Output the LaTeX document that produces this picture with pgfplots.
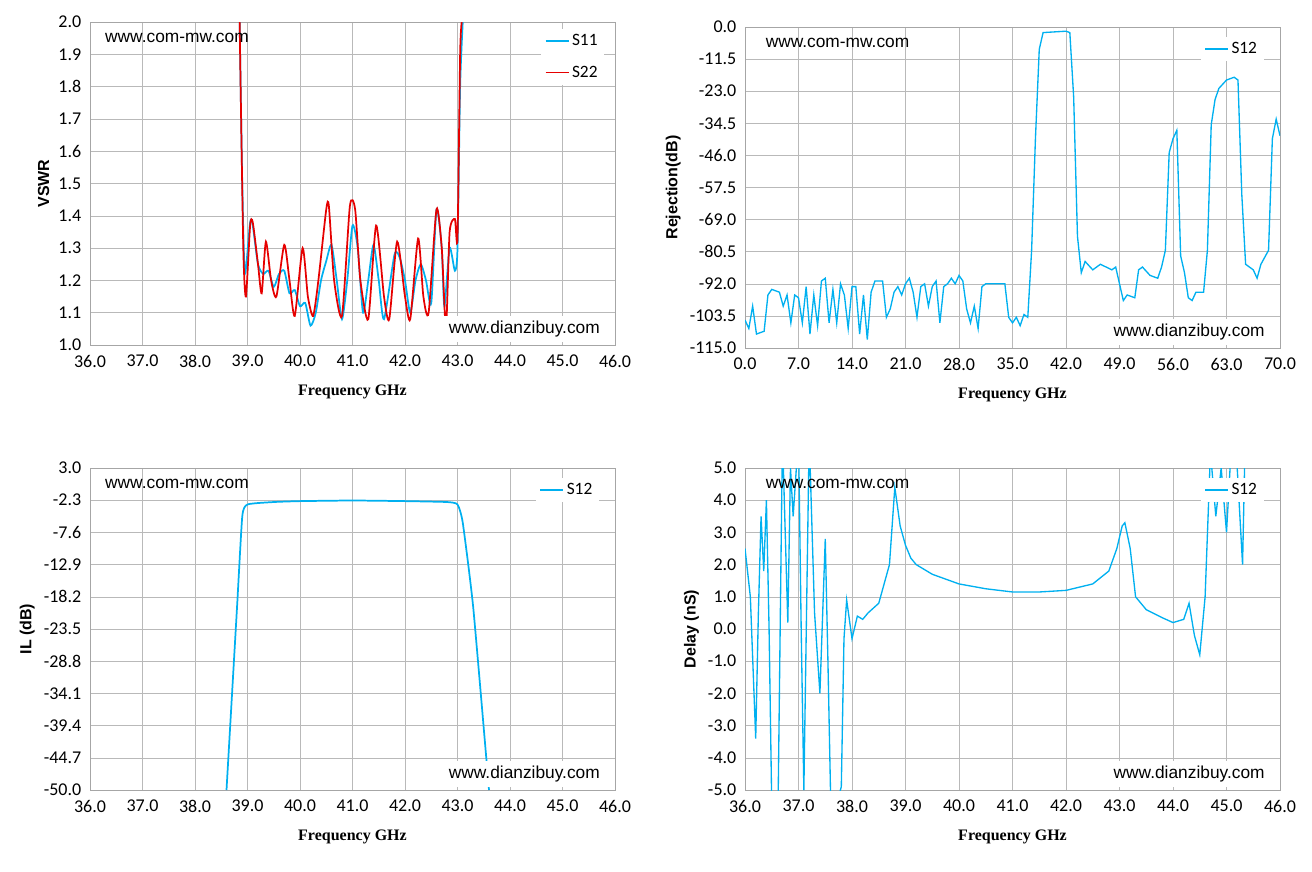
\documentclass[border=0pt]{standalone}
\usepackage{pgfplots}
\pgfplotsset{compat=1.18}
\usepackage{fontspec}
\setmainfont{Carlito}
\newfontfamily\labfont{Liberation Serif}
\newfontfamily\sfb{Liberation Sans}
\definecolor{cb}{RGB}{0,176,240}
\definecolor{cr}{RGB}{230,0,0}
\pgfplotsset{
  every axis/.style={scale only axis, anchor=south west, axis line style={gray!70}, grid=major, grid style={gray!55},
    tick style={draw=none}, font=\fontsize{13.5}{15}\selectfont,
    xticklabel style={yshift=-4pt}, yticklabel style={xshift=-3pt},
    /pgf/number format/assume math mode=true, /pgf/number format/fixed, /pgf/number format/precision=1, /pgf/number format/fixed zerofill,
    xlabel style={font=\labfont\bfseries\fontsize{12}{14}\selectfont, yshift=-6pt},
    ylabel style={font=\sfb\bfseries\fontsize{12}{14}\selectfont},
    legend style={draw=none, fill=white, font=\fontsize{13}{15}\selectfont, at={(0.97,0.97)}, anchor=north east, row sep=10pt},
    legend cell align=left, every axis plot/.append style={line width=1.3pt}},
}
\begin{document}
\begin{tikzpicture}
\useasboundingbox (0,0) rectangle (984pt,-653.25pt);
% top-left
\begin{axis}[at={(67.5pt,-258.75pt)}, width=393.75pt, height=242.25pt, xmin=36, xmax=46, ymin=1, ymax=2, xtick distance=1, ytick distance=0.1,
  xlabel={Frequency GHz}, ylabel={VSWR}, legend style={at={(0.98,0.98)}}]
\addplot[cb,smooth,tension=0.4] coordinates {(38.85,2.0)(38.9,1.5)(38.95,1.22)(39.05,1.38)(39.1,1.37)(39.2,1.25)(39.3,1.22)(39.4,1.23)(39.5,1.18)(39.6,1.22)(39.7,1.23)(39.8,1.16)(39.9,1.17)(40.0,1.12)(40.1,1.13)(40.2,1.06)(40.3,1.10)(40.4,1.2)(40.5,1.26)(40.6,1.31)(40.7,1.2)(40.8,1.08)(40.9,1.2)(41.0,1.37)(41.1,1.3)(41.2,1.1)(41.3,1.2)(41.4,1.31)(41.5,1.2)(41.6,1.08)(41.8,1.28)(41.9,1.27)(42.0,1.2)(42.1,1.1)(42.2,1.2)(42.3,1.25)(42.4,1.2)(42.5,1.13)(42.6,1.42)(42.7,1.3)(42.75,1.12)(42.85,1.3)(42.95,1.23)(43.0,1.3)(43.05,1.8)(43.1,2.0)};
\addplot[cr,smooth,tension=0.4] coordinates {(38.85,2.0)(38.92,1.3)(38.97,1.15)(39.05,1.37)(39.1,1.38)(39.2,1.25)(39.27,1.16)(39.35,1.32)(39.45,1.2)(39.55,1.15)(39.7,1.31)(39.8,1.2)(39.9,1.09)(40.05,1.3)(40.15,1.15)(40.25,1.09)(40.35,1.2)(40.5,1.42)(40.55,1.43)(40.65,1.2)(40.8,1.09)(40.95,1.43)(41.05,1.42)(41.15,1.2)(41.3,1.08)(41.45,1.37)(41.6,1.15)(41.7,1.08)(41.85,1.32)(42.0,1.15)(42.1,1.08)(42.25,1.33)(42.35,1.15)(42.45,1.1)(42.6,1.42)(42.7,1.3)(42.78,1.05)(42.85,1.35)(42.95,1.39)(43.0,1.33)(43.05,1.9)(43.08,2.0)};
\legend{S11,S22}
\node[anchor=north west,font=\sfb\fontsize{13}{15}\selectfont] at (rel axis cs:0.02,0.98) {www.com-mw.com};
\node[anchor=south east,fill=white,font=\sfb\fontsize{13}{15}\selectfont] at (rel axis cs:0.98,0.01) {www.dianzibuy.com};
\end{axis}
% top-right
\begin{axis}[at={(558.75pt,-261pt)}, width=401.25pt, height=240.75pt, xmin=0, xmax=70, ymin=-115, ymax=0, xtick distance=7, ytick={-115,-103.5,...,0},
  xlabel={Frequency GHz}, ylabel={Rejection(dB)}]
\addplot[cb,line width=1pt] coordinates {(0,-105)(0.5,-108)(1,-100)(1.5,-110)(2.5,-109)(3,-96)(3.5,-94)(4.5,-95)(5,-100)(5.5,-96)(6,-106)(6.5,-96)(7,-97)(7.5,-106)(8,-93)(8.5,-110)(9,-96)(9.5,-107)(10,-91)(10.5,-90)(11,-106)(11.5,-94)(12,-106)(12.5,-92)(13,-96)(13.5,-108)(14,-93)(14.5,-93)(15,-110)(15.5,-96)(16,-112)(16.5,-95)(17,-91)(18,-91)(18.5,-104)(19,-101)(19.5,-95)(20,-93)(20.5,-96)(21,-92)(21.5,-90)(22,-95)(22.5,-104)(23,-93)(23.5,-92)(24,-100)(24.5,-93)(25,-91)(25.5,-106)(26,-93)(26.5,-92)(27,-90)(27.5,-92)(28,-89)(28.5,-91)(29,-101)(29.5,-106)(30,-100)(30.5,-108)(31,-93)(31.5,-92)(33,-92)(34,-92)(34.5,-104)(35,-106)(35.5,-104)(36,-107)(36.5,-103)(37,-104)(37.5,-80)(38,-40)(38.5,-8)(39,-2)(42,-1.5)(42.5,-2)(43,-25)(43.5,-75)(44,-88)(44.5,-84)(45.5,-87)(46.5,-85)(48,-87)(48.5,-86)(49,-92)(49.5,-98)(50,-96)(51,-97)(51.5,-87)(52,-86)(53,-89)(54,-90)(54.5,-86)(55,-80)(55.5,-45)(56,-40)(56.5,-37)(57,-82)(57.5,-88)(58,-97)(58.5,-98)(59,-95)(60,-95)(60.5,-80)(61,-35)(61.5,-26)(62,-22)(63,-19)(64,-18)(64.5,-19)(65,-60)(65.5,-85)(66.5,-87)(67,-90)(67.5,-85)(68.5,-80)(69,-40)(69.5,-33)(70,-39)};
\legend{S12}
\node[anchor=north west,font=\sfb\fontsize{13}{15}\selectfont] at (rel axis cs:0.03,0.98) {www.com-mw.com};
\node[anchor=south east,fill=white,font=\sfb\fontsize{13}{15}\selectfont] at (rel axis cs:0.98,0.01) {www.dianzibuy.com};
\end{axis}
% bottom-left
\begin{axis}[at={(67.5pt,-592.5pt)}, width=393.75pt, height=241.5pt, xmin=36, xmax=46, ymin=-50, ymax=3, xtick distance=1, ytick={-50,-44.7,-39.4,-34.1,-28.8,-23.5,-18.2,-12.9,-7.6,-2.3,3},
  xlabel={Frequency GHz}, ylabel={IL (dB)}]
\addplot[cb,smooth,tension=0.3] coordinates {(38.6,-50)(38.8,-20)(38.9,-5)(39.0,-3.0)(39.5,-2.6)(40,-2.45)(41,-2.35)(42,-2.45)(42.8,-2.6)(43.0,-3.0)(43.1,-6)(43.3,-20)(43.6,-50)};
\legend{S12}
\node[anchor=north west,font=\sfb\fontsize{13}{15}\selectfont] at (rel axis cs:0.02,0.98) {www.com-mw.com};
\node[anchor=south east,fill=white,font=\sfb\fontsize{13}{15}\selectfont] at (rel axis cs:0.98,0.01) {www.dianzibuy.com};
\end{axis}
% bottom-right
\begin{axis}[at={(558.75pt,-592.5pt)}, width=401.25pt, height=241.5pt, xmin=36, xmax=46, ymin=-5, ymax=5, xtick distance=1, ytick distance=1,
  xlabel={Frequency GHz}, ylabel={Delay (nS)}]
\addplot[cb,line width=1pt] coordinates {(36.0,2.5)(36.1,1.0)(36.2,-3.4)(36.25,0.5)(36.3,3.5)(36.35,1.8)(36.4,4.0)(36.45,0)(36.5,-5.5)(36.6,-8)(36.7,6)(36.8,0.2)(36.85,5)(36.9,3.5)(37.0,6)(37.05,0)(37.1,-5)(37.2,6)(37.3,0.5)(37.4,-2.0)(37.5,2.8)(37.55,-1)(37.6,-5.2)(37.7,-5.5)(37.8,-4.9)(37.85,-0.3)(37.9,0.9)(38.0,-0.3)(38.1,0.4)(38.2,0.3)(38.3,0.5)(38.5,0.8)(38.7,2)(38.8,4.4)(38.9,3.2)(39.0,2.6)(39.1,2.2)(39.2,2.0)(39.5,1.7)(40,1.4)(40.5,1.25)(41,1.15)(41.5,1.15)(42,1.2)(42.5,1.4)(42.8,1.8)(42.95,2.5)(43.05,3.2)(43.1,3.3)(43.2,2.5)(43.3,1.0)(43.5,0.6)(43.8,0.35)(44.0,0.2)(44.2,0.3)(44.3,0.8)(44.4,-0.2)(44.5,-0.8)(44.6,1.0)(44.7,5.5)(44.8,3.5)(44.9,5)(45.0,3.0)(45.1,6)(45.2,5)(45.3,2)(45.35,6)};
\legend{S12}
\node[anchor=north west,font=\sfb\fontsize{13}{15}\selectfont] at (rel axis cs:0.03,0.98) {www.com-mw.com};
\node[anchor=south east,fill=white,font=\sfb\fontsize{13}{15}\selectfont] at (rel axis cs:0.98,0.01) {www.dianzibuy.com};
\end{axis}
\end{tikzpicture}
\end{document}
